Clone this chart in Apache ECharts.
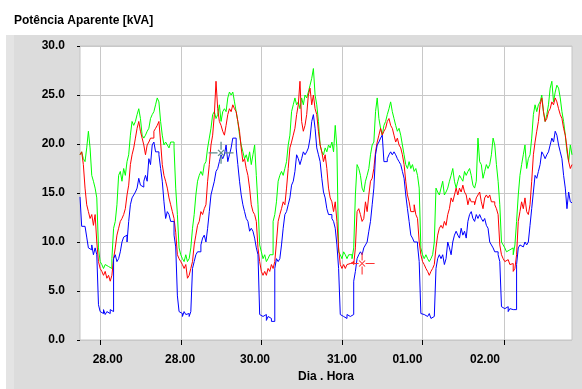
<!DOCTYPE html>
<html>
<head>
<meta charset="utf-8">
<script src="https://cdn.jsdelivr.net/npm/echarts@6/dist/echarts.min.js"></script>
<style>
html,body{margin:0;padding:0;background:#fff;}
#c{width:582px;height:389px;}
</style>
</head>
<body>
<div id="c"></div>
<script>
// Sample spacing of the readings (hours)
const stepHours = 0.5;
const axisMaxHours = 146.5;

// Tick (day boundary) positions and label positions in hours, with label texts
const tickHours = [6.1, 30.1, 54.1, 78.0, 102.0, 126.2];
const labelHours = [8.25, 29.8, 52.1, 78.0, 97.5, 120.6];
const labelTexts = ['28.00', '28.00', '30.00', '31.00', '01.00', '02.00'];

const yTicks = [0, 5, 10, 15, 20, 25, 30];

// Cursor markers [hour, value]
const cursorGray = [42.0, 19.1];
const cursorRed = [84.0, 7.8];

const blue = [
14.6,11.6,11.6,11.4,10.5,9.4,9.2,9.7,8.7,9.4,8.7,3.6,2.9,2.7,3.1,2.6,2.9,2.7,3.1,2.9,
8.3,8.7,8.0,8.3,9.0,10.0,10.5,10.7,10.0,12.1,13.8,14.5,14.8,15.1,15.5,16.5,15.8,15.6,16.2,16.8,
16.2,18.5,17.9,19.9,20.2,19.2,19.2,18.9,17.5,16.2,14.1,12.4,13.1,12.8,12.1,12.1,10.7,
9.5,4.5,2.9,2.7,2.4,2.9,2.6,2.7,2.4,2.9,7.3,8.0,8.7,9.0,9.0,9.7,10.4,10.7,10.0,11.4,
13.1,14.8,15.5,16.2,17.2,17.5,18.2,18.9,18.5,18.9,19.9,18.2,18.9,19.6,20.6,20.6,19.6,17.9,16.2,14.8,
13.8,13.1,12.4,12.1,11.1,11.4,11.1,10.4,9.4,8.7,2.6,2.4,2.2,2.6,2.0,2.4,2.2,1.9,1.9,7.3,
8.3,8.0,8.3,9.7,11.4,12.8,13.1,13.8,14.5,15.8,16.2,17.2,18.9,18.5,17.9,18.5,19.2,18.9,19.2,19.6,
20.6,22.3,23.0,21.6,19.6,18.9,18.2,16.5,15.1,14.5,13.4,12.8,12.8,12.4,12.1,11.4,9.7,7.3,2.6,2.4,
2.6,2.2,2.6,2.4,2.2,2.6,6.0,7.0,8.3,8.7,9.0,8.7,9.4,9.7,10.0,11.1,12.1,13.8,15.5,
18.9,19.9,20.2,20.6,20.9,18.2,18.2,18.5,18.9,19.2,18.9,19.2,18.9,18.5,18.2,17.9,17.2,16.5,14.8,13.4,
12.1,10.7,10.4,10.0,10.0,9.7,8.0,2.7,2.6,2.7,2.4,2.6,2.7,2.2,2.4,2.6,7.3,8.3,8.7,8.3,
8.7,7.7,8.3,10.0,9.4,8.7,10.0,10.7,11.1,10.7,10.4,11.4,10.7,11.1,10.4,12.1,12.8,13.1,
12.4,12.1,12.8,12.4,12.8,12.4,12.1,12.4,11.7,11.4,10.0,9.7,9.4,9.0,9.0,8.7,8.0,3.4,3.2,3.1,
3.4,2.9,3.2,3.1,2.9,3.1,7.7,9.4,9.7,9.5,9.7,10.0,9.7,10.0,11.7,13.4,15.1,16.8,16.5,17.2,
17.9,19.2,18.9,18.5,18.9,19.2,19.9,20.6,20.2,21.3,20.9,19.9,19.2,18.5,16.8,15.5,13.4,15.1,14.1,14.0
];

const red = [
18.9,19.2,17.9,15.5,13.8,13.1,12.4,12.8,11.7,12.8,10.0,8.0,7.3,7.0,6.6,7.0,6.3,6.6,6.0,6.6,
8.3,9.4,10.7,11.4,12.1,12.4,12.8,13.4,14.8,15.8,17.9,18.9,19.6,20.6,21.6,22.3,21.3,20.6,19.9,18.9,
19.9,20.2,20.6,20.6,21.3,21.6,21.9,22.3,20.2,17.9,16.8,16.2,15.5,14.5,13.8,13.1,12.4,
11.0,8.7,8.3,8.0,7.7,7.3,7.7,6.3,6.6,7.3,8.0,9.7,10.7,11.7,12.1,13.1,12.8,13.4,13.8,16.2,
17.9,19.9,20.9,23.0,26.4,23.6,22.3,21.9,21.3,20.9,21.9,23.0,23.6,23.3,24.0,23.6,23.3,22.3,21.3,19.6,
18.2,18.5,17.5,16.8,15.5,13.8,13.1,12.8,12.1,9.4,8.0,7.0,6.6,7.0,6.6,7.3,7.0,7.7,7.3,8.0,
10.0,12.1,12.8,13.4,14.1,13.8,15.5,17.5,19.6,20.2,20.9,21.6,23.0,24.0,26.4,22.3,21.3,21.9,23.0,25.0,
25.7,24.0,25.0,23.6,23.0,21.3,19.9,19.2,18.2,18.9,17.5,15.5,14.5,14.1,13.1,14.1,12.1,9.4,7.7,7.3,
7.7,7.3,7.7,7.8,7.7,8.0,7.7,9.4,13.1,13.4,12.8,12.1,12.4,14.1,13.1,14.8,16.2,16.5,17.5,
19.2,20.2,20.9,21.6,20.9,21.3,21.6,22.3,22.6,21.9,21.6,20.9,20.2,20.6,19.9,19.6,18.9,17.9,16.2,14.8,
14.1,13.1,13.1,13.8,12.8,12.4,10.0,8.7,8.0,7.7,7.3,7.0,6.6,7.0,7.3,7.7,9.4,10.7,11.4,11.7,
11.4,12.1,11.7,12.8,13.4,14.5,14.1,14.8,15.5,14.8,15.5,15.1,15.8,15.1,14.8,13.8,14.5,14.1,
14.1,13.8,14.5,14.8,15.1,14.1,13.4,14.5,14.8,14.5,14.8,14.1,14.1,13.8,13.4,12.8,9.7,8.7,8.3,8.0,
8.2,8.0,7.7,7.8,7.0,7.3,8.7,12.1,13.1,14.1,13.4,14.5,13.1,12.8,13.8,16.2,18.9,20.2,21.3,22.3,
24.0,24.7,23.3,22.3,22.6,23.3,23.6,24.3,24.0,24.7,24.3,23.6,23.0,22.6,21.6,20.9,19.6,18.2,17.5,17.9
];

const green = [
18.9,19.2,18.5,18.2,19.6,21.3,19.6,16.8,16.2,15.5,14.5,9.4,8.0,7.7,7.3,7.7,7.5,7.7,7.3,8.3,
11.4,12.1,13.8,16.8,17.2,16.2,17.5,16.8,18.2,18.9,20.9,22.3,21.9,22.3,23.0,23.6,22.6,20.9,20.6,20.9,
21.3,21.6,22.6,23.0,23.3,24.0,24.7,24.3,22.3,20.9,19.9,20.2,19.9,19.6,20.2,20.2,19.6,
15.5,12.8,9.4,8.7,8.3,8.0,8.7,8.0,8.3,9.4,11.4,12.8,14.8,16.2,16.8,17.2,16.8,17.9,18.2,19.6,
20.6,21.6,23.0,23.3,22.6,23.0,24.0,22.3,23.3,23.6,23.3,24.7,25.3,25.0,25.3,24.3,23.3,22.3,20.9,19.9,
19.2,18.5,18.9,18.2,19.2,17.9,18.9,19.9,16.8,13.8,9.7,9.0,8.3,8.7,8.0,8.3,8.7,8.7,12.1,12.8,
14.1,16.2,16.8,17.2,16.8,17.5,18.2,19.9,20.9,23.3,24.0,24.7,24.0,24.3,23.6,24.7,24.0,25.0,24.7,25.3,
26.0,26.7,27.7,25.0,24.0,22.3,19.9,19.2,18.9,19.6,19.2,19.9,19.6,20.2,19.2,21.9,19.6,9.0,8.7,8.3,
9.0,8.7,8.3,8.7,8.7,8.3,9.4,14.8,17.9,17.5,16.8,15.5,15.1,16.2,16.8,17.5,18.9,19.9,20.2,
23.3,24.7,22.6,21.6,20.9,21.9,22.3,23.0,23.6,24.3,23.3,22.6,21.9,21.3,21.6,20.9,19.9,18.9,17.9,17.5,
18.2,17.5,17.9,17.2,17.5,16.8,15.5,9.4,8.7,8.3,8.7,8.3,8.0,8.3,8.7,10.0,15.5,15.1,14.8,15.5,
16.2,14.8,15.1,15.5,16.2,16.8,17.5,16.2,15.5,16.2,16.8,16.5,16.2,17.2,16.8,17.2,17.5,16.8,
15.8,15.5,16.2,20.6,18.2,17.9,16.5,17.2,17.9,17.5,17.9,18.9,20.6,19.9,17.9,16.2,13.8,10.0,9.7,9.4,
9.0,9.2,9.0,9.4,8.7,9.7,12.1,14.8,16.8,17.9,18.9,19.9,17.5,18.5,18.9,20.6,23.0,24.0,23.3,24.0,
24.3,25.0,23.3,22.3,23.0,24.0,25.7,26.4,24.3,25.3,26.0,25.7,24.7,23.3,22.3,20.9,19.2,18.2,19.9,18.9
];

function pairs(vals) {
  return vals.map((v, i) => [i * stepHours, v]);
}

const font = 'Liberation Sans, Arial, sans-serif';
const crossPath = 'path://M0,11L9,11M16,11L25,11M12.5,0L12.5,8M12.5,14L12.5,22M9.5,8L15.5,14M15.5,8L9.5,14';

const chart = echarts.init(document.getElementById('c'), null, {renderer: 'canvas'});
chart.setOption({
  animation: false,
  backgroundColor: '#ffffff',
  title: {
    text: 'Potência Aparente [kVA]',
    left: 9, top: 10,
    textStyle: {fontSize: 12, fontWeight: 'bold', fontFamily: font, color: '#000'}
  },
  graphic: [
    {type: 'rect', z: -10, silent: true, shape: {x: 6, y: 35, width: 576, height: 354}, style: {fill: '#dcdcdc'}},
    {type: 'rect', z: -9, silent: true, shape: {x: 6, y: 35, width: 8, height: 354}, style: {fill: '#e4e4e4'}}
  ],
  grid: {
    left: 80, right: 10, top: 46, bottom: 49,
    show: true, backgroundColor: '#ffffff', borderColor: '#c4c4c4', borderWidth: 1
  },
  xAxis: {
    type: 'value', min: 0, max: axisMaxHours,
    name: 'Dia . Hora', nameLocation: 'middle', nameGap: 29,
    nameTextStyle: {fontSize: 12, fontWeight: 'bold', fontFamily: font, color: '#000'},
    axisLine: {show: false},
    axisTick: {show: true, length: 5, customValues: tickHours, lineStyle: {color: '#000', width: 1}},
    axisLabel: {
      customValues: labelHours, margin: 14,
      fontSize: 12, fontWeight: 'bold', fontFamily: font, color: '#000',
      formatter: function (v) {
        let best = 0, d = Infinity;
        labelHours.forEach((h, i) => { if (Math.abs(h - v) < d) { d = Math.abs(h - v); best = i; } });
        return labelTexts[best];
      }
    },
    splitLine: {show: true, lineStyle: {color: '#c8c8c8', width: 1}}
  },
  yAxis: {
    type: 'value', min: yTicks[0], max: yTicks[yTicks.length - 1], interval: 5,
    axisLine: {show: false},
    axisTick: {show: true, length: 3, lineStyle: {color: '#000'}},
    axisLabel: {
      margin: 15, fontSize: 12, fontWeight: 'bold', fontFamily: font, color: '#000',
      formatter: v => v.toFixed(1)
    },
    splitLine: {show: true, lineStyle: {color: '#c8c8c8', width: 1}}
  },
  series: [
    {type: 'line', name: 'green', data: pairs(green), step: 'end', showSymbol: false,
     lineStyle: {color: '#00ff00', width: 1}, itemStyle: {color: '#00ff00'}},
    {type: 'line', name: 'red', data: pairs(red), step: 'end', showSymbol: false,
     lineStyle: {color: '#ff0000', width: 1}, itemStyle: {color: '#ff0000'}},
    {type: 'line', name: 'blue', data: pairs(blue), step: 'end', showSymbol: false,
     lineStyle: {color: '#0000ff', width: 1}, itemStyle: {color: '#0000ff'},
     markPoint: {
       silent: true,
       label: {show: false},
       symbol: crossPath, symbolSize: [25, 22],
       data: [
         {coord: cursorGray, itemStyle: {color: 'none', borderColor: '#5f8c8c', borderWidth: 1.2}},
         {coord: cursorRed, itemStyle: {color: 'none', borderColor: '#ff3030', borderWidth: 1}}
       ]
     }}
  ]
});
</script>
</body>
</html>
